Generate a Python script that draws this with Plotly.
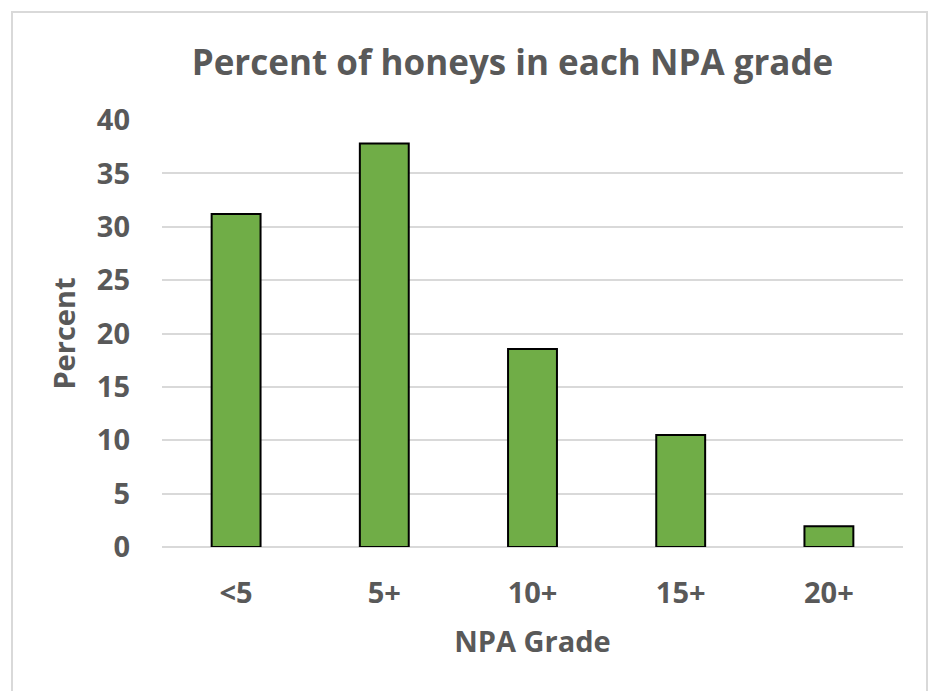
import plotly.graph_objects as go

categories = ["<5", "5+", "10+", "15+", "20+"]
percent = [31.2, 37.8, 18.55, 10.5, 1.95]
y_ticks = [0, 5, 10, 15, 20, 25, 30, 35, 40]

W, H = 933, 691
ml, mr, mt, mb = 162, 30, 120, 144
pw, ph = W - ml - mr, H - mt - mb

FONT = "Open Sans"
GRAY = "#595959"

fig = go.Figure(go.Bar(
    x=categories, y=percent,
    marker=dict(color="#70AD47", line=dict(color="black", width=2)),
))

def px_x(p):
    return (p - ml) / pw

def px_y(p):
    return (H - mb - p) / ph

fig.add_shape(type="rect", xref="paper", yref="paper",
              x0=px_x(12), x1=px_x(927), y0=px_y(12), y1=px_y(700),
              line=dict(color="#d9d9d9", width=2), fillcolor="rgba(0,0,0,0)", layer="below")

fig.update_layout(
    width=W, height=H,
    margin=dict(l=ml, r=mr, t=mt, b=mb),
    paper_bgcolor="white", plot_bgcolor="white",
    bargap=0.67,
    showlegend=False,
    title=dict(text="<b>Percent of honeys in each NPA grade</b>",
               x=(ml + pw / 2 - 20) / W, xanchor="center",
               y=1 - 63 / H, yanchor="middle",
               font=dict(family=FONT, size=35, color=GRAY)),
    font=dict(family=FONT, color=GRAY),
)
fig.update_xaxes(
    showgrid=False, showline=False, zeroline=False,
    tickfont=dict(family=FONT, size=29, color=GRAY, weight="bold"),
    ticklabelstandoff=26,
    title=dict(text="<b>NPA Grade</b>", font=dict(family=FONT, size=29, color=GRAY), standoff=21),
)
fig.update_yaxes(
    range=[0, 40], tickvals=y_ticks,
    showgrid=True, gridcolor="#d9d9d9", gridwidth=2,
    zeroline=True, zerolinecolor="#d9d9d9", zerolinewidth=2,
    showline=False,
    tickfont=dict(family=FONT, size=29, color=GRAY, weight="bold"),
    ticklabelstandoff=31,
    title=dict(text="<b>Percent</b>", font=dict(family=FONT, size=29, color=GRAY), standoff=12),
)

fig.write_html("out.html", config={"displayModeBar": False},
               post_script="document.body.style.margin='0';document.body.style.overflow='hidden';")
